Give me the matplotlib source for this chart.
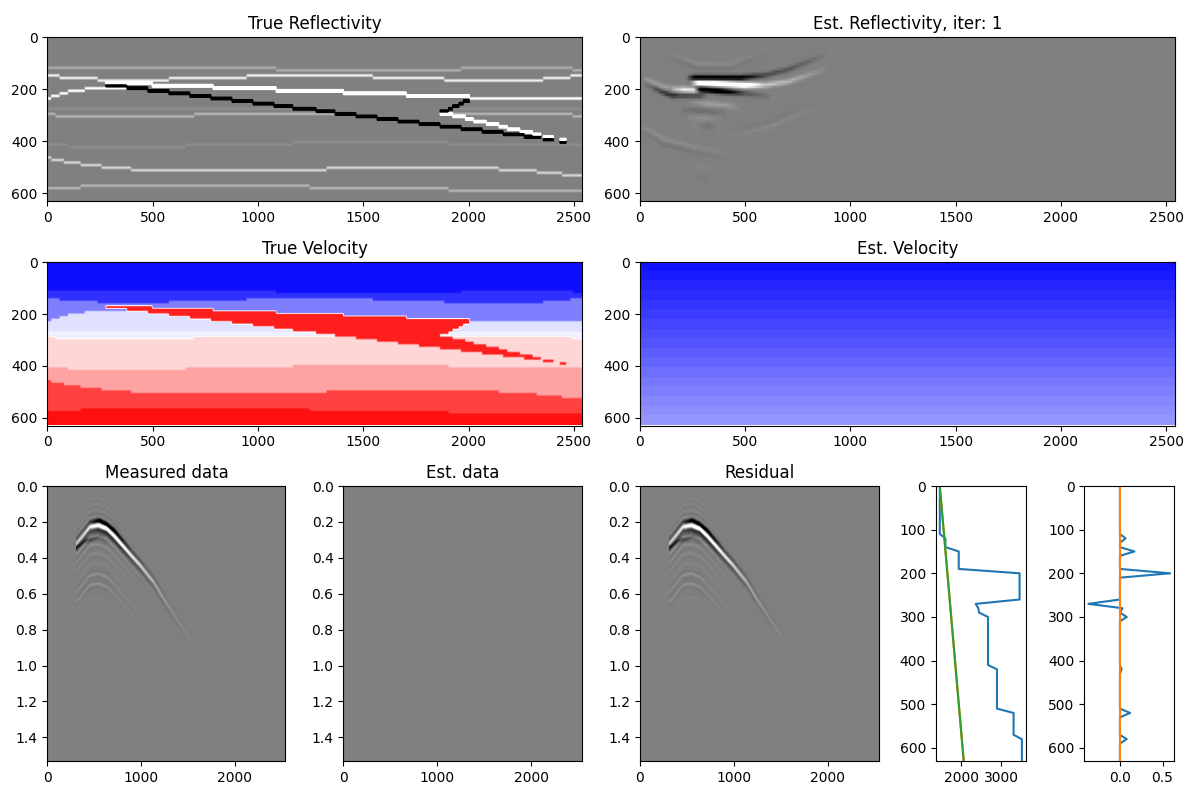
import numpy as np
import matplotlib
matplotlib.use("Agg")
import matplotlib.pyplot as plt

# model grid, one spare row because row 0 sits centred on the top edge
cols = np.arange(255) * 10
n_rows = 65
times = np.arange(384) * 0.004
depths = np.arange(64) * 10.0

# horizons: x where a step starts, and row of the step
h1_x, h1_row = [0, 1090, 1961, 2500], [12, 13, 12, 13]
h2_x, h2_row = [0, 60, 234, 575, 950, 1550, 1882, 2357, 2481], [15, 16, 17, 16, 15, 16, 17, 16, 15]
h3_x = [0, 13, 60, 100, 179, 480, 575, 678, 773, 876, 971, 1074, 1169, 1272, 1367, 1470, 1565, 1668, 1768, 1866]
h3_row = [24, 23, 22, 21, 20, 21, 22, 23, 24, 25, 26, 27, 28, 29, 30, 31, 32, 33, 34, 24]
h4_x, h4_row = [0], [28]
h5_x, h5_row = [0, 36, 694, 2500], [30, 31, 30, 31]
h6_x, h6_row = [0, 100, 654, 1169, 1906], [42, 43, 42, 41, 42]
h7_x, h7_row = [0, 20, 79, 158, 258, 396, 1327, 2143, 2326, 2445], [47, 48, 49, 50, 51, 52, 51, 52, 53, 54]
h8_x, h8_row = [0, 155, 1248, 1906], [59, 58, 59, 60]

layer_vel = [1467, 1608, 1942, 2367, 2433, 2675, 2900, 3317, 3525]
layer_refl = [0.0, 0.067, 0.17, 0.2, 0.02, 0.08, 0.02, 0.13, 0.08]
wedge_vel = 3467
wedge_refl = 1.2

# wedge body
up_top_x, up_top_row = [274, 496, 789, 1090, 1407, 1708], [18, 19, 20, 21, 22, 23]
up_bot_x = [274, 377, 480, 575, 678, 773, 876, 971, 1074, 1169, 1272, 1367, 1470, 1565, 1668, 1768, 1866, 1906, 1930, 1953, 1977]
up_bot_row = [19, 20, 21, 22, 23, 24, 25, 26, 27, 28, 29, 30, 31, 32, 33, 34, 29, 28, 27, 26, 25]
up_end = 2006
low_top_x = [1866, 1922, 1985, 2025, 2088, 2144, 2183, 2246, 2302]
low_top_row = [30, 31, 32, 33, 34, 35, 36, 37, 38]
low_bot_x, low_bot_row = [1866, 1966, 2064, 2164, 2262], [35, 36, 37, 38, 39]
low_end = 2349
blob_start, blob_end = [2357, 2437], [2405, 2465]
blob_top, blob_bot = [39, 40], [40, 41]

# estimated velocity: end points of the line, and the colour bands of the image
est_line_v = [1467, 2067]
est_line_z = [0, 630]
est_bands = [1485, 1520, 1555, 1590, 1625, 1661, 1696, 1731, 1767, 1802, 1837, 1873, 1908, 1943, 1979, 2014, 2049]

# profiles on the right
prof_z = [0, 110, 120, 140, 150, 190, 200, 260, 270, 280, 290, 300, 410, 420, 510, 520, 570, 580, 630]
prof_v = [1467, 1467, 1608, 1608, 1942, 1942, 3467, 3467, 2367, 2433, 2450, 2675, 2675, 2900, 2900, 3317, 3317, 3525, 3525]
refl_z = [0, 110, 120, 130, 140, 150, 160, 190, 200, 210, 260, 270, 280, 290, 300, 310, 410, 420, 430, 510, 520, 530, 570, 580, 590, 630]
refl_v = [0, 0, 0.067, 0, 0, 0.17, 0, 0, 0.59, 0, 0, -0.37, 0.03, 0, 0.08, 0, 0, 0.02, 0, 0, 0.12, 0, 0, 0.08, 0, 0]
est_refl_z = [0, 630]
est_refl_v = [0, 0]

# picked events of the measured data: x, time, amplitude
main_x = [305, 383, 454, 542, 631, 720, 844, 986, 1128, 1270, 1411, 1535]
main_t = [0.322, 0.272, 0.226, 0.217, 0.235, 0.281, 0.356, 0.439, 0.531, 0.652, 0.763, 0.865]
main_a = [0.9, 1.1, 1.4, 2.0, 2.4, 2.2, 1.6, 1.1, 0.6, 0.28, 0.12, 0.03]
ring_a = [0.25, 0.3, 0.35, 0.35, 0.3, 0.2, 0.1, 0.05, 0.0, 0.0, 0.0, 0.0]
ring_shift = [-0.185, -0.155, -0.12, -0.085, -0.05, 0.06, 0.105, 0.155, 0.21, 0.27, 0.325, 0.40, 0.46]
ring_gain = [0.04, 0.06, 0.08, 0.12, 0.22, 0.45, 0.2, 0.16, 0.1, 0.28, 0.3, 0.06, 0.04]
over_x, over_t, over_a = [440, 560, 720, 900], [0.205, 0.19, 0.245, 0.355], [0.0, -1.0, -0.9, 0.0]
under_x, under_t, under_a = [305, 400, 560, 680], [0.345, 0.305, 0.28, 0.32], [-0.9, -0.8, -0.45, 0.0]
tail_x, tail_t, tail_a = [1470, 1640], [0.69, 0.76], [0.08, 0.03]

# picked events of the estimated reflectivity: x, depth, amplitude
est_events = [
    ([235, 271, 366, 493, 588, 698, 792, 887], [172, 174, 177, 183, 183, 170, 145, 119], [0, 2.0, 2.4, 2.4, 0.9, 0.65, 0.35, 0.05]),
    ([215, 255, 477, 588, 698, 792, 887], [154, 154, 154, 145, 123, 94, 62], [0, -1.8, -1.7, -0.7, -0.55, -0.35, -0.04]),
    ([250, 287, 398, 493, 619], [196, 200, 208, 215, 228], [0, -2.0, -2.0, -0.6, -0.08]),
    ([144, 200, 250, 285], [200, 200, 203, 203], [0.2, 1.3, 1.3, 0]),
    ([60, 144, 279, 320], [196, 224, 224, 224], [-0.2, -0.8, -0.7, 0]),
    ([17, 112, 170], [158, 190, 196], [0.25, 0.4, 0.2]),
    ([17, 112, 170], [177, 215, 222], [-0.2, -0.35, -0.2]),
    ([240, 318, 413, 470], [250, 256, 262, 270], [0.1, 0.4, 0.35, 0.05]),
    ([200, 300, 400], [280, 284, 290], [-0.15, -0.25, -0.08]),
    ([230, 300, 380], [312, 312, 316], [0.1, 0.2, 0.05]),
    ([250, 320, 370], [345, 345, 350], [0.1, -0.18, 0.05]),
    ([2, 112, 271, 420], [343, 395, 427, 450], [0.1, 0.18, 0.12, 0.0]),
    ([2, 112, 271, 420], [362, 415, 447, 470], [-0.06, -0.14, -0.1, 0.0]),
    ([112, 271, 429, 604], [49, 100, 100, 42], [0.02, 0.12, 0.11, 0.03]),
    ([112, 271, 429, 604], [66, 118, 116, 58], [-0.02, -0.12, -0.11, -0.03]),
    ([429, 619, 825], [382, 343, 269], [0.05, 0.12, 0.05]),
    ([429, 619, 825], [366, 327, 253], [-0.03, -0.08, -0.03]),
    ([240, 300, 340], [500, 505, 510], [0.02, 0.08, 0.02]),
    ([240, 300, 340], [540, 545, 550], [0.02, -0.07, 0.02]),
]


def stairs(xs, rows):
    return np.array(rows)[np.searchsorted(xs, cols, side="right") - 1]


def body_mask(top, bot, start, end):
    rr = np.arange(n_rows)[:, None]
    inside = (cols >= start) & (cols < end)
    return (rr >= top) & (rr < bot) & inside


def add_event(img, xs, ys, xp, yp, ap, width, ricker=False):
    y0 = np.interp(xs, xp, yp)
    amp = np.interp(xs, xp, ap, left=0, right=0)
    d = (ys[:, None] - y0) / width
    wave = (1 - 2 * d ** 2) * np.exp(-(d ** 2)) if ricker else np.exp(-(d ** 2))
    img += amp * wave


# layered model, one column at a time
horizons = [(h1_x, h1_row), (h2_x, h2_row), (h3_x, h3_row), (h4_x, h4_row),
            (h5_x, h5_row), (h6_x, h6_row), (h7_x, h7_row), (h8_x, h8_row)]
rows = np.arange(n_rows)[:, None]
layer = np.zeros((n_rows, cols.size), dtype=int)
for hx, hr in horizons:
    layer += rows >= stairs(hx, hr)

true_vel = np.array(layer_vel)[layer].astype(float)
potential = np.cumsum(layer_refl)[layer]

wedge = body_mask(stairs(up_top_x, up_top_row), stairs(up_bot_x, up_bot_row), up_top_x[0], up_end)
wedge |= body_mask(stairs(low_top_x, low_top_row), stairs(low_bot_x, low_bot_row), low_top_x[0], low_end)
for bs, be, bt, bb in zip(blob_start, blob_end, blob_top, blob_bot):
    wedge |= body_mask(bt, bb, bs, be)
true_vel[wedge] = wedge_vel
potential[wedge] = wedge_refl

true_refl = np.zeros_like(potential)
true_refl[1:] = np.diff(potential, axis=0)

est_vel_img = np.repeat(np.array(est_bands, dtype=float)[:, None], cols.size, axis=1)

est_refl_img = np.zeros((depths.size, cols.size))
for ex, ez, ea in est_events:
    add_event(est_refl_img, cols, depths, ex, ez, ea, 10.0)

data = np.zeros((times.size, cols.size))
add_event(data, cols, times, main_x, main_t, main_a, 0.021, ricker=True)
for shift, gain in zip(ring_shift, ring_gain):
    add_event(data, cols, times, main_x, np.array(main_t) + shift, np.array(ring_a) * gain * 2, 0.014, ricker=True)
add_event(data, cols, times, over_x, over_t, over_a, 0.012)
add_event(data, cols, times, under_x, under_t, under_a, 0.012)
add_event(data, cols, times, tail_x, tail_t, tail_a, 0.008)

fig = plt.figure(figsize=(12, 8))


def px_axes(left, top, right, bottom):
    return fig.add_axes([left / 1200, 1 - bottom / 800, (right - left) / 1200, (bottom - top) / 800])


row_h = 630 / 64
model_ext = (0, 2540, 64.5 * row_h, -0.5 * row_h)
depth_ext = (0, 2540, 630, 0)
time_ext = (0, 2540, times[-1], 0)


def show(ax, img, cmap, vmin, vmax, ext, interp="auto"):
    ax.imshow(img, cmap=cmap, vmin=vmin, vmax=vmax, extent=ext, aspect="auto",
              interpolation=interp, interpolation_stage="data")
    ax.set_xlim(0, 2540)
    ax.set_ylim(ext[2] if ext is time_ext else 630, 0)


ax = px_axes(47.3, 37.3, 582.3, 201)
show(ax, true_refl, "gray", -0.2, 0.2, model_ext)
ax.set_title("True Reflectivity")

ax = px_axes(639.7, 37.3, 1174.7, 201)
show(ax, est_refl_img, "gray", -1.5, 1.5, depth_ext)
ax.set_title("Est. Reflectivity, iter: 1")

ax = px_axes(47.3, 262.3, 582.3, 425.5)
show(ax, true_vel, "bwr", 1400, 3600, model_ext)
ax.set_title("True Velocity")

ax = px_axes(639.7, 262.3, 1174.7, 425.5)
show(ax, est_vel_img, "bwr", 1400, 3600, depth_ext, interp="nearest")
ax.set_title("Est. Velocity")

panels = [(47.3, 285.5, data, "Measured data"), (343.3, 582.3, np.zeros_like(data), "Est. data"), (639.7, 878.7, data, "Residual")]
for left, right, img, title in panels:
    ax = px_axes(left, 486, right, 761)
    show(ax, img, "gray", -1.5, 1.5, time_ext)
    ax.set_title(title)

ax = px_axes(935.7, 486, 1026, 761)
ax.plot(prof_v, prof_z)
ax.plot(est_line_v, est_line_z)
ax.plot(est_line_v, est_line_z)
ax.set_ylim(630, 0)

ax = px_axes(1084.3, 486, 1174.3, 761)
ax.plot(refl_v, refl_z)
ax.plot(est_refl_v, est_refl_z)
ax.set_ylim(630, 0)

fig.savefig("out.png", dpi=100)
